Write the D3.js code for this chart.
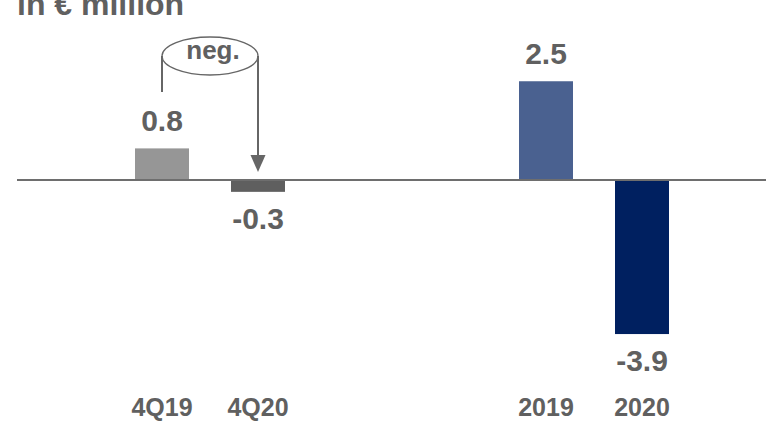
<!DOCTYPE html>
<html>
<head>
<meta charset="utf-8">
<script src="https://cdn.jsdelivr.net/npm/d3@7"></script>
<style>
  html, body { margin: 0; padding: 0; background: #ffffff; }
  svg { display: block; }
  text { font-family: "Liberation Sans", Arial, sans-serif; font-weight: bold; fill: #606060; }
</style>
</head>
<body>
<svg id="chart" width="766" height="422"></svg>
<script>
// Categories (two empty slots separate the quarterly and annual groups)
const slots = ["4Q19", "4Q20", "gap1", "gap2", "2019", "2020"];
const categories = ["4Q19", "4Q20", "2019", "2020"];
const values = [0.8, -0.3, 2.5, -3.9];
const valueLabels = ["0.8", "-0.3", "2.5", "-3.9"];
const barColors = ["#969696", "#5f5f5f", "#4a6190", "#002060"];
const unitTitle = "in € million";
const calloutText = "neg.";

const svg = d3.select("#chart");

const x = d3.scaleBand()
  .domain(slots)
  .range([114, 690])
  .paddingInner(0.4375)
  .paddingOuter(0.21875);

const y = d3.scaleLinear()
  .domain([-4, 3])
  .range([338, 61.5]);

const data = categories.map((c, i) => ({ cat: c, v: values[i], label: valueLabels[i], color: barColors[i] }));
const cx = d => x(d) + x.bandwidth() / 2;

// Unit title
svg.append("text")
  .attr("x", 17)
  .attr("y", 15)
  .style("font-size", "32px")
  .text(unitTitle);

// Bars
svg.selectAll("rect.bar")
  .data(data)
  .join("rect")
  .attr("class", "bar")
  .attr("x", d => x(d.cat))
  .attr("width", x.bandwidth())
  .attr("y", d => y(Math.max(0, d.v)))
  .attr("height", d => Math.abs(y(d.v) - y(0)))
  .attr("fill", d => d.color);

// Zero line
svg.append("line")
  .attr("x1", 17).attr("x2", 766)
  .attr("y1", y(0)).attr("y2", y(0))
  .attr("stroke", "#6e6e6e")
  .attr("stroke-width", 2);

// Value labels
svg.selectAll("text.value")
  .data(data)
  .join("text")
  .attr("class", "value")
  .attr("x", d => cx(d.cat))
  .attr("y", d => d.v >= 0 ? y(d.v) - 17 : y(d.v) + 37)
  .attr("text-anchor", "middle")
  .style("font-size", "30px")
  .text(d => d.label);

// Category axis labels
const axis = d3.axisBottom(x)
  .tickValues(categories)
  .tickSize(0)
  .tickPadding(0);
const axisG = svg.append("g")
  .attr("transform", "translate(0,397)")
  .call(axis);
axisG.select(".domain").remove();
axisG.selectAll("text")
  .attr("dy", "0.74em")
  .attr("fill", "#606060")
  .style("font-size", "25px")
  .style("font-family", "\"Liberation Sans\", Arial, sans-serif")
  .style("font-weight", "bold");

// Callout: oval with connector from 4Q19 to 4Q20
const xa = cx("4Q19");
const xb = cx("4Q20");
const ovalCy = 56;
const callout = svg.append("g").attr("class", "callout");
callout.append("ellipse")
  .attr("cx", (xa + xb) / 2)
  .attr("cy", ovalCy)
  .attr("rx", (xb - xa) / 2)
  .attr("ry", 19)
  .attr("fill", "#ffffff")
  .attr("stroke", "#666666")
  .attr("stroke-width", 1.3);
callout.append("line")
  .attr("x1", xa).attr("x2", xa)
  .attr("y1", ovalCy).attr("y2", 92)
  .attr("stroke", "#666666").attr("stroke-width", 2);
callout.append("line")
  .attr("x1", xb).attr("x2", xb)
  .attr("y1", ovalCy).attr("y2", 158)
  .attr("stroke", "#666666").attr("stroke-width", 2);
callout.append("path")
  .attr("d", `M${xb - 7.5},155 L${xb + 7.5},155 L${xb},172 Z`)
  .attr("fill", "#666666");
callout.append("text")
  .attr("x", (xa + xb) / 2 + 3)
  .attr("y", 59)
  .attr("text-anchor", "middle")
  .style("font-size", "26px")
  .text(calloutText);
</script>
</body>
</html>
